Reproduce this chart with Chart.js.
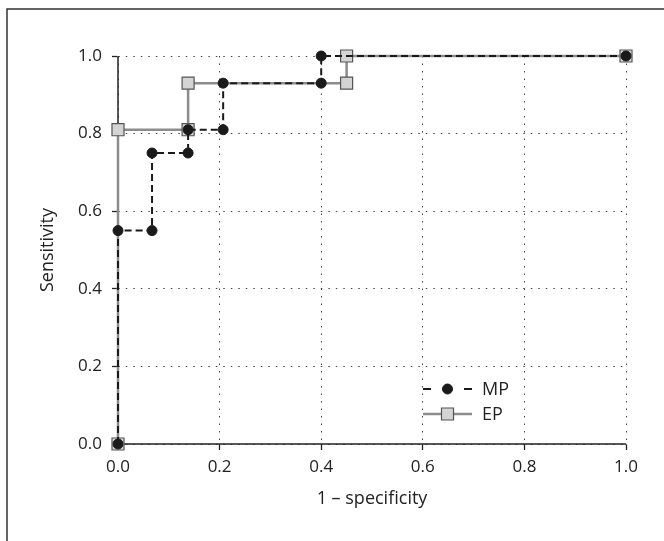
<!DOCTYPE html>
<html>
<head>
    <title>ROC curves MP / EP</title>
    <script src="https://cdn.jsdelivr.net/npm/chart.js"></script>
    <style>
        body { margin: 0; background: #fff; }
    </style>
</head>
<body>
    <canvas id="rocChart" width="664" height="541"></canvas>

    <script>
        // data
        var mpX = [0, 0, 0.067, 0.067, 0.138, 0.138, 0.207, 0.207, 0.4, 0.4, 1];
        var mpY = [0, 0.55, 0.55, 0.75, 0.75, 0.81, 0.81, 0.93, 0.93, 1, 1];
        var epX = [0, 0, 0.138, 0.138, 0.45, 0.45, 1];
        var epY = [0, 0.81, 0.81, 0.93, 0.93, 1, 1];
        var tickVals = [0, 0.2, 0.4, 0.6, 0.8, 1.0];
        var xTitle = '1 \u2013 specificity';
        var yTitle = 'Sensitivity';

        var FONT = '"Open Sans", "DejaVu Sans", sans-serif';

        function toPoints(xs, ys) {
            return xs.map(function (x, i) { return { x: x, y: ys[i] }; });
        }

        // fixed tick positions
        function setTicks(scale) {
            scale.ticks = tickVals.map(function (v) { return { value: v }; });
        }

        // outer frame of the figure (left and top edge)
        var framePlugin = {
            id: 'frame',
            afterDraw: function (chart) {
                var ctx = chart.ctx;
                ctx.save();
                ctx.strokeStyle = '#333';
                ctx.lineWidth = 1.5;
                ctx.beginPath();
                ctx.moveTo(7, chart.height);
                ctx.lineTo(7, 9);
                ctx.lineTo(chart.width, 9);
                ctx.stroke();
                ctx.restore();
            }
        };

        // solid axis lines (grid dash also hits the built-in border)
        var axisLines = {
            id: 'axisLines',
            beforeDatasetsDraw: function (chart) {
                var ctx = chart.ctx;
                var a = chart.chartArea;
                ctx.save();
                ctx.strokeStyle = '#222';
                ctx.lineWidth = 1.5;
                ctx.beginPath();
                ctx.moveTo(a.left, a.top);
                ctx.lineTo(a.left, a.bottom);
                ctx.lineTo(a.right, a.bottom);
                ctx.stroke();
                ctx.restore();
            }
        };

        // legend drawn inside the plot area
        var insideLegend = {
            id: 'insideLegend',
            afterDatasetsDraw: function (chart) {
                var ctx = chart.ctx;
                var a = chart.chartArea;
                var x0 = a.left + 305, x1 = a.left + 354;
                var rows = [a.bottom - 55, a.bottom - 30];
                chart.data.datasets.forEach(function (ds, i) {
                    var y = rows[i];
                    var xm = (x0 + x1) / 2;
                    ctx.save();
                    ctx.strokeStyle = ds.borderColor;
                    ctx.lineWidth = ds.borderWidth;
                    ctx.beginPath();
                    if (ds.borderDash) {
                        ctx.moveTo(x0, y); ctx.lineTo(x0 + 8, y);
                        ctx.moveTo(x1 - 8, y); ctx.lineTo(x1, y);
                    } else {
                        ctx.moveTo(x0, y); ctx.lineTo(x1, y);
                    }
                    ctx.stroke();
                    ctx.fillStyle = ds.pointBackgroundColor;
                    ctx.strokeStyle = ds.pointBorderColor;
                    ctx.lineWidth = ds.pointBorderWidth;
                    ctx.beginPath();
                    if (ds.pointStyle === 'rect') {
                        var s = ds.pointRadius * Math.SQRT1_2;
                        ctx.rect(xm - s, y - s, 2 * s, 2 * s);
                    } else {
                        ctx.arc(xm, y, ds.pointRadius, 0, Math.PI * 2);
                    }
                    ctx.fill();
                    ctx.stroke();
                    ctx.fillStyle = '#222';
                    ctx.font = '18px ' + FONT;
                    ctx.textBaseline = 'middle';
                    ctx.fillText(ds.label, x1 + 10, y + 1);
                    ctx.restore();
                });
            }
        };

        var gridOpts = {
            color: '#444',
            lineWidth: 1,
            tickColor: '#222',
            tickWidth: 1.3,
            tickBorderDash: [],
            tickLength: 6
        };
        var borderOpts = { color: 'rgba(0,0,0,0)', width: 1.3, dash: [1.5, 6] };

        var ctx = document.getElementById('rocChart').getContext('2d');
        var chart = new Chart(ctx, {
            type: 'scatter',
            data: {
                datasets: [{
                    label: 'MP',
                    data: toPoints(mpX, mpY),
                    showLine: true,
                    clip: false,
                    borderColor: '#1a1a1a',
                    borderWidth: 2,
                    borderDash: [7, 4],
                    pointStyle: 'circle',
                    pointRadius: 5,
                    pointBackgroundColor: '#1a1a1a',
                    pointBorderColor: '#1a1a1a',
                    pointBorderWidth: 1,
                    order: 0
                }, {
                    label: 'EP',
                    data: toPoints(epX, epY),
                    showLine: true,
                    clip: false,
                    borderColor: '#8c8c8c',
                    borderWidth: 2.5,
                    pointStyle: 'rect',
                    pointRadius: 8.5,
                    pointBackgroundColor: '#d4d4d4',
                    pointBorderColor: '#555',
                    pointBorderWidth: 1.2,
                    order: 1
                }]
            },
            options: {
                responsive: false,
                animation: false,
                layout: { padding: { left: 0, top: 56, right: 38, bottom: 0 } },
                plugins: {
                    legend: { display: false },
                    tooltip: { enabled: false }
                },
                scales: {
                    x: {
                        type: 'linear',
                        min: 0, max: 1,
                        afterBuildTicks: setTicks,
                        afterFit: function (s) { s.height = 97; },
                        grid: gridOpts,
                        border: borderOpts,
                        ticks: {
                            color: '#222',
                            padding: 7,
                            font: { family: FONT, size: 17 },
                            callback: function (v) { return v.toFixed(1); }
                        },
                        title: {
                            display: true,
                            text: xTitle,
                            color: '#222',
                            font: { family: FONT, size: 18 },
                            padding: { top: 0, bottom: 31 }
                        }
                    },
                    y: {
                        type: 'linear',
                        min: 0, max: 1,
                        afterBuildTicks: setTicks,
                        afterFit: function (s) { s.width = 118; },
                        grid: gridOpts,
                        border: borderOpts,
                        ticks: {
                            color: '#222',
                            padding: 10,
                            font: { family: FONT, size: 17 },
                            callback: function (v) { return v.toFixed(1); }
                        },
                        title: {
                            display: true,
                            text: yTitle,
                            color: '#222',
                            font: { family: FONT, size: 18 },
                            padding: { top: 37, bottom: 0 }
                        }
                    }
                }
            },
            plugins: [framePlugin, axisLines, insideLegend]
        });
    </script>
</body>
</html>
